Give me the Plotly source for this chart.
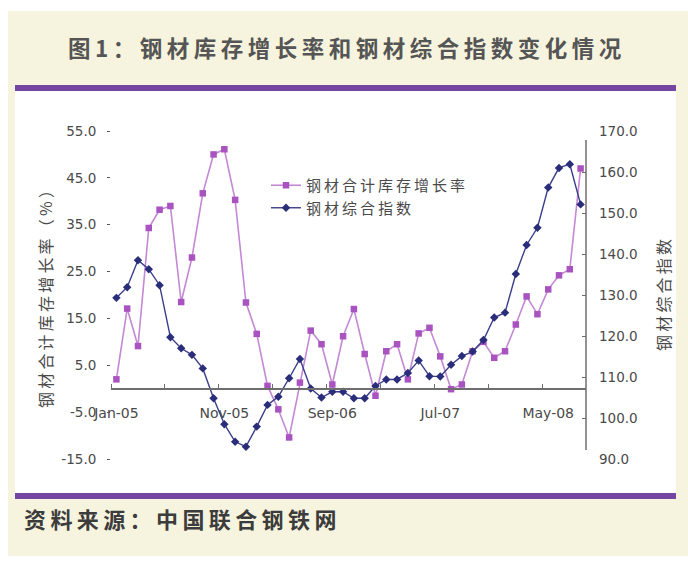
import pandas as pd
import plotly.graph_objects as go

# Monthly categories, Jan-05 .. Aug-08
months = list(pd.date_range("2005-01-01", periods=44, freq="MS").strftime("%b-%y"))

# 钢材合计库存增长率 (%), left axis
stock_growth = [
    2.0, 17.1, 9.1, 34.3, 38.2, 39.0, 18.5, 28.0, 41.7, 50.0,
    51.1, 40.3, 18.4, 11.7, 0.6, -4.4, -10.4, 1.3, 12.4, 9.5,
    0.9, 11.2, 17.0, 7.4, -1.5, 8.0, 9.5, 2.0, 11.8, 13.0,
    6.9, -0.1, 0.9, 8.0, 10.0, 6.6, 8.0, 13.7, 19.7, 15.9,
    21.2, 24.2, 25.5, 47.0,
]

# 钢材综合指数, right axis
steel_index = [
    129.3, 131.9, 138.5, 136.3, 132.4, 119.7, 117.0, 115.4, 112.1, 104.8,
    98.5, 94.2, 93.0, 97.9, 103.2, 105.2, 109.7, 114.4, 107.2, 105.0,
    106.4, 106.4, 104.8, 104.8, 107.8, 109.4, 109.4, 111.0, 114.0, 110.2,
    110.1, 113.0, 115.1, 116.2, 119.0, 124.5, 125.7, 135.1, 142.2, 146.4,
    156.2, 161.0, 161.9, 152.1,
]

left_range = [-15, 55]
left_ticks = [-15, -5, 5, 15, 25, 35, 45, 55]
right_range = [90, 170]
right_ticks = [90, 100, 110, 120, 130, 140, 150, 160, 170]
label_step = 10

title_text = "图1：钢材库存增长率和钢材综合指数变化情况"
source_text = "资料来源：中国联合钢铁网"
name_growth = "钢材合计库存增长率"
name_index = "钢材综合指数"
left_title = "钢材合计库存增长率（%）"
right_title = "钢材综合指数"

W, H = 688, 561
L, R, T, B = 111, 586, 131, 459  # plot box in pixels


def fx(p):
    return (p - L) / (R - L)


def fy(p):
    return (B - p) / (B - T)


def spaced(s):
    return "\u2009".join(s)


CJK = "Noto Sans CJK SC"
NUM = "DejaVu Sans"
CREAM = "#F6F4DE"
PURPLE_BAR = "#7545A2"

x = list(range(len(months)))

fig = go.Figure()
fig.add_trace(go.Scatter(
    x=x, y=stock_growth, name=spaced(name_growth), yaxis="y", legendgroup="a",
    mode="lines+markers",
    line=dict(color="#C488D4", width=1.6),
    marker=dict(symbol="square", size=6.5, color="#A853C0"),
))
fig.add_trace(go.Scatter(
    x=x, y=steel_index, name=spaced(name_index), yaxis="y2", legendgroup="b",
    mode="lines+markers",
    line=dict(color="#3B3E8A", width=1.4),
    marker=dict(symbol="diamond", size=6.5, color="#2A2D7A"),
))

# fraction of the left axis where value 0 sits: the category axis crosses there
zero_pos = (0 - left_range[0]) / (left_range[1] - left_range[0])

tick_font = dict(family=NUM, size=13.5, color="#4a4a4a")

fig.update_layout(
    width=W, height=H, autosize=False,
    margin=dict(l=L, r=W - R, t=T, b=H - B, pad=0),
    paper_bgcolor="white", plot_bgcolor="rgba(0,0,0,0)",
    showlegend=True,
    legend=dict(
        x=fx(266), y=fy(169), xanchor="left", yanchor="top",
        bgcolor="rgba(0,0,0,0)", traceorder="grouped", tracegroupgap=0,
        font=dict(family=CJK, size=15, color="#4a4a4a"),
        itemwidth=30,
    ),
    xaxis=dict(
        range=[-0.5, len(months) - 0.5], anchor="free", position=zero_pos,
        showgrid=False, zeroline=False,
        showline=True, linecolor="#6e6e6e", linewidth=1.6,
        tickvals=x[::label_step], ticktext=months[::label_step],
        ticks="", ticklabelstandoff=12,
        tickfont=dict(family=NUM, size=14, color="#4a4a4a"),
        minor=dict(tick0=4.5, dtick=5, ticks="inside", ticklen=4,
                   tickcolor="#6e6e6e", tickwidth=1.2),
    ),
    yaxis=dict(
        range=left_range, tickvals=left_ticks,
        ticktext=[f"{v:.1f}" for v in left_ticks],
        showgrid=False, zeroline=False, showline=False,
        ticks="outside", ticklen=3, tickcolor="#555", tickwidth=1.2,
        ticklabelstandoff=8, tickfont=tick_font,
    ),
    yaxis2=dict(
        range=right_range, overlaying="y", side="right",
        tickvals=right_ticks, ticktext=[f"{v:.1f}" for v in right_ticks],
        showgrid=False, zeroline=False, showline=False,
        ticks="inside", ticklen=4, tickcolor="#6e6e6e", tickwidth=1.2,
        ticklabelstandoff=12, tickfont=tick_font,
    ),
)

shapes = [
    # cream page
    dict(type="rect", xref="paper", yref="paper", x0=fx(8), x1=fx(688), y0=fy(556), y1=fy(11),
         fillcolor=CREAM, line=dict(width=0), layer="below"),
    # white chart panel
    dict(type="rect", xref="paper", yref="paper", x0=fx(15), x1=fx(676), y0=fy(496), y1=fy(91),
         fillcolor="white", line=dict(width=0), layer="below"),
    # purple rules above and below the panel
    dict(type="rect", xref="paper", yref="paper", x0=fx(15), x1=fx(676), y0=fy(91), y1=fy(85),
         fillcolor=PURPLE_BAR, line=dict(width=0), layer="below"),
    dict(type="rect", xref="paper", yref="paper", x0=fx(15), x1=fx(676), y0=fy(499), y1=fy(493),
         fillcolor=PURPLE_BAR, line=dict(width=0), layer="below"),
    # secondary axis line
    dict(type="line", xref="paper", yref="paper", x0=1, x1=1, y0=fy(450), y1=fy(140),
         line=dict(color="#6e6e6e", width=1.5)),
]
fig.update_layout(shapes=shapes)

annotations = [
    dict(text="<b>" + spaced(title_text) + "</b>", x=fx(345), y=fy(47),
         font=dict(family=CJK, size=22.5, color="#555555")),
    dict(text="<b>" + spaced(source_text) + "</b>", x=fx(22), y=fy(518), xanchor="left",
         font=dict(family=CJK, size=22, color="#3c3c3c")),
    dict(text=spaced(left_title), x=fx(45), y=0.5, textangle=-90,
         font=dict(family=CJK, size=16, color="#4a4a4a")),
    dict(text=spaced(right_title), x=fx(663), y=0.5, textangle=-90,
         font=dict(family=CJK, size=16, color="#4a4a4a")),
]
for a in annotations:
    a.setdefault("xanchor", "center")
    a.update(xref="paper", yref="paper", yanchor="middle", showarrow=False)
fig.update_layout(annotations=annotations)

fig.write_html("out.html")
